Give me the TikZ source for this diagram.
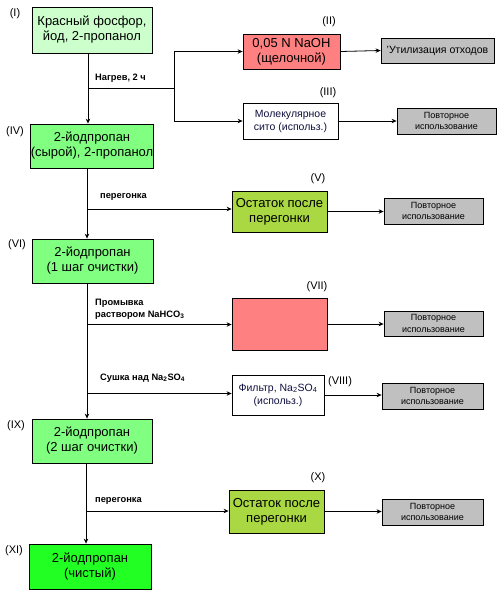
\documentclass[tikz,border=0pt]{standalone}
\usepackage{fontspec}
\setmainfont{Liberation Sans}
\usetikzlibrary{arrows.meta}
\definecolor{pale}{HTML}{CCFFCC}
\definecolor{midgreen}{HTML}{80FF80}
\definecolor{bright}{HTML}{22FF22}
\definecolor{salmon}{HTML}{FF8080}
\definecolor{olive}{HTML}{A9D842}
\definecolor{grayb}{HTML}{C0C0C0}
\definecolor{navytext}{HTML}{101040}
\tikzset{
  box/.style={draw=black, line width=0.8pt, rectangle, align=center, inner sep=0pt, font=\fontsize{13}{15}\selectfont},
  graybox/.style={draw=black, line width=0.8pt, rectangle, fill=grayb, align=center, inner sep=0pt, font=\fontsize{9}{11.5}\selectfont},
  whitebox/.style={box, fill=white, text=navytext, font=\fontsize{10.5}{13}\selectfont},
  roman/.style={font=\fontsize{11}{13}\selectfont, inner sep=0pt},
  edgelab/.style={font=\bfseries\fontsize{9.3}{11.5}\selectfont, inner sep=0pt, anchor=west, align=left},
  conn/.style={line width=0.8pt},
  arr/.style={line width=0.8pt, -{Stealth[length=5pt,width=4.5pt]}}
}
\begin{document}
\begin{tikzpicture}[x=1pt,y=-1pt]
\useasboundingbox (0,0) rectangle (502,600);
% main column
\node[box, fill=pale, minimum width=120, minimum height=46] (b1) at (92,30) {Красный фосфор,\\йод, 2-пропанол};
\node[box, fill=midgreen, minimum width=120, minimum height=44] (b4) at (92,146) {2-йодпропан\\(сырой), 2-пропанол};
\node[box, fill=midgreen, minimum width=121, minimum height=44] (b6) at (92.5,261) {2-йодпропан\\(1 шаг очистки)};
\node[box, fill=midgreen, minimum width=120, minimum height=44] (b9) at (92,441) {2-йодпропан\\(2 шаг очистки)};
\node[box, fill=bright, minimum width=122, minimum height=45] (b11) at (90,566.5) {2-йодпропан\\(чистый)};
% side boxes
\node[box, fill=salmon, minimum width=97, minimum height=35] (b2) at (291.5,51.5) {0,05 N NaOH\\(щелочной)};
\node[graybox, minimum width=113, minimum height=25, font=\fontsize{10.5}{13}\selectfont] (g2) at (437.5,50.5) {'Утилизация отходов};
\node[whitebox, minimum width=95, minimum height=36] (b3) at (290.5,121) {Молекулярное\\сито (использ.)};
\node[graybox, minimum width=99, minimum height=26] (g3) at (446.5,121) {Повторное\\использование};
\node[box, fill=olive, minimum width=95, minimum height=41] (b5) at (279.5,211.5) {Остаток после\\перегонки};
\node[graybox, minimum width=99, minimum height=26] (g5) at (433.5,211) {Повторное\\использование};
\node[box, fill=salmon, minimum width=95, minimum height=52] (b7) at (279.5,324) {};
\node[graybox, minimum width=99, minimum height=25] (g7) at (433.5,323.5) {Повторное\\использование};
\node[whitebox, minimum width=92, minimum height=40] (b8) at (278,395) {Фильтр, Na\textsubscript{2}SO\textsubscript{4}\\(использ.)};
\node[graybox, minimum width=101, minimum height=26] (g8) at (432.5,396) {Повторное\\использование};
\node[box, fill=olive, minimum width=95, minimum height=43] (b10) at (276.5,511.5) {Остаток после\\перегонки};
\node[graybox, minimum width=101, minimum height=26] (g10) at (432.5,512) {Повторное\\использование};
% roman labels
\node[roman] (r1) at (15,14) {(I)};
\node[roman] (r2) at (329,22) {(II)};
\node[roman] (r3) at (328,93) {(III)};
\node[roman] (r4) at (15,132) {(IV)};
\node[roman] (r5) at (318,179) {(V)};
\node[roman] (r6) at (17,245) {(VI)};
\node[roman] (r7) at (317,287) {(VII)};
\node[roman] (r8) at (340,382) {(VIII)};
\node[roman] (r9) at (16,426) {(IX)};
\node[roman] (r10) at (318,478) {(X)};
\node[roman] (r11) at (14,551) {(XI)};
% junction coordinates
\coordinate (j1) at (88,88);
\coordinate (k1) at (174,88);
\coordinate (k2) at (174,51.5);
\coordinate (k3) at (174,121);
\coordinate (s2) at (87,209);
\coordinate (s3) at (87,324.5);
\coordinate (s4) at (87,393.5);
\coordinate (s5) at (86,511);
% main spine
\draw[arr] (b1.south -| j1) -- (b4.north -| j1);
\draw[arr] (b4.south -| s2) -- (b6.north -| s2);
\draw[arr] (b6.south -| s3) -- (b9.north -| s3);
\draw[arr] (b9.south -| s5) -- (b11.north -| s5);
% branches
\draw[conn] (j1) -- (k1);
\draw[conn] (k2) -- (k3);
\draw[arr] (k2) -- (b2.west);
\draw[arr] (k3) -- (b3.west);
\draw[arr] (b2.east) -- (g2.west);
\draw[arr] (b3.east) -- (g3.west);
\draw[arr] (s2) -- (s2 -| b5.west);
\draw[arr] (b5.east) -- (b5.east -| g5.west);
\draw[arr] (s3) -- (s3 -| b7.west);
\draw[arr] (b7.east) -- (b7.east -| g7.west);
\draw[arr] (s4) -- (s4 -| b8.west);
\draw[arr] (b8.east) -- (b8.east -| g8.west);
\draw[arr] (s5) -- (s5 -| b10.west);
\draw[arr] (b10.east) -- (b10.east -| g10.west);
% edge labels
\node[edgelab] (e1) at (95,78) {Нагрев, 2 ч};
\node[edgelab] (e2) at (100,197) {перегонка};
\node[edgelab] (e3) at (95,309.5) {Промывка\\раствором NaHCO\textsubscript{3}};
\node[edgelab] (e4) at (100,378) {Сушка над Na\textsubscript{2}SO\textsubscript{4}};
\node[edgelab] (e5) at (95,501) {перегонка};
\end{tikzpicture}
\end{document}
